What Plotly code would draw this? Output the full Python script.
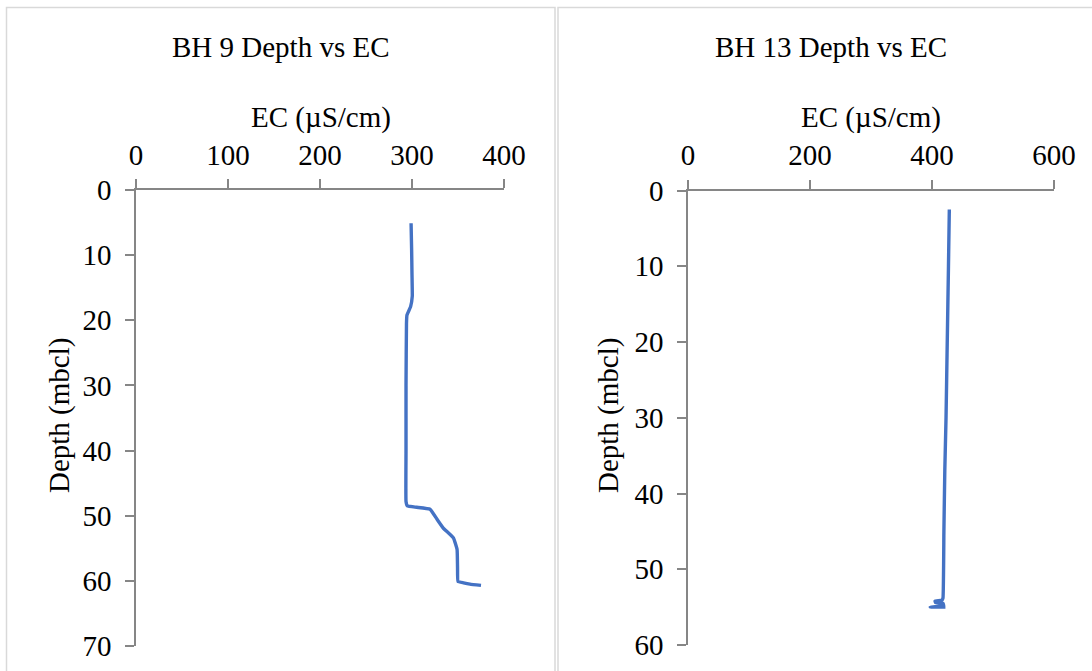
import plotly.graph_objects as go

# BH 9 profile: depth (m below collar) and electrical conductivity (µS/cm)
bh9_depth = [5.1, 9.2, 13.0, 16.3, 17.9, 19.2, 20.5, 30.0, 40.0, 47.8, 48.5, 48.7,
             49.0, 50.5, 51.9, 53.4, 55.2, 58.0, 60.1, 60.3, 60.5, 60.7]
bh9_ec = [299.0, 299.6, 300.0, 300.3, 298.5, 294.5, 294.0, 293.5, 293.5, 293.5, 295.0, 305.0,
          319.6, 327.0, 334.0, 345.0, 349.0, 349.5, 350.0, 356.0, 363.0, 375.0]

# BH 13 profile
bh13_depth = [2.5, 10.0, 20.0, 30.0, 36.9, 45.0, 53.8, 54.1, 54.2, 54.4, 54.5, 54.8, 55.0, 55.0]
bh13_ec = [428.4, 427.0, 425.0, 423.0, 421.0, 419.5, 418.0, 416.0, 405.0, 406.0, 418.0, 419.0, 397.0, 422.0]

# Axis ticks
bh9_xticks = [0, 100, 200, 300, 400]
bh9_yticks = [0, 10, 20, 30, 40, 50, 60, 70]
bh13_xticks = [0, 200, 400, 600]
bh13_yticks = [0, 10, 20, 30, 40, 50, 60]

W, H = 1092, 671
FONT = "Liberation Serif"
FS = 29
LINE = "#4472C4"
AXIS = "#868686"


def px(x):
    return x / W


def py(y):
    return 1 - y / H


fig = go.Figure()
fig.add_trace(go.Scatter(x=bh9_ec, y=bh9_depth, mode="lines", xaxis="x", yaxis="y",
                         line=dict(color=LINE, width=3.4, shape="spline", smoothing=0.3),
                         showlegend=False))
fig.add_trace(go.Scatter(x=bh13_ec, y=bh13_depth, mode="lines", xaxis="x2", yaxis="y2",
                         line=dict(color=LINE, width=3.4, shape="spline", smoothing=0.3),
                         showlegend=False))

common_x = dict(side="top", showgrid=False, zeroline=False, showline=True, linecolor=AXIS,
                linewidth=1.5, ticks="outside", ticklen=9, tickwidth=1.5, tickcolor=AXIS,
                automargin=False,
                tickfont=dict(family=FONT, size=FS, color="#000000"), ticklabelstandoff=3)
common_y = dict(showgrid=False, zeroline=False, showline=True, linecolor=AXIS,
                linewidth=1.5, ticks="outside", ticklen=9, tickwidth=1.5, tickcolor=AXIS,
                automargin=False,
                tickfont=dict(family=FONT, size=FS, color="#000000"), ticklabelstandoff=8)

fig.update_layout(
    width=W, height=H,
    margin=dict(l=0, r=0, t=0, b=0, autoexpand=False),
    paper_bgcolor="white", plot_bgcolor="white",
    xaxis=dict(common_x, domain=[px(136), px(504)], range=[0, 400],
               tickvals=bh9_xticks, anchor="y"),
    yaxis=dict(common_y, domain=[py(646), py(190)], range=[70, 0],
               tickvals=bh9_yticks, anchor="x"),
    xaxis2=dict(common_x, domain=[px(688), px(1054)], range=[0, 600],
                tickvals=bh13_xticks, anchor="y2"),
    yaxis2=dict(common_y, domain=[py(645), py(190.5)], range=[60, 0],
                tickvals=bh13_yticks, anchor="x2"),
    shapes=[
        dict(type="rect", xref="paper", yref="paper", x0=px(6.5), x1=px(555), y0=py(700), y1=py(7.5),
             line=dict(color="#D9D9D9", width=1.5), fillcolor="rgba(0,0,0,0)", layer="below"),
        dict(type="rect", xref="paper", yref="paper", x0=px(558), x1=px(1110), y0=py(700), y1=py(7.5),
             line=dict(color="#D9D9D9", width=1.5), fillcolor="rgba(0,0,0,0)", layer="below"),
    ],
)

ann_font = dict(family=FONT, size=FS, color="#000000")
annotations = [
    dict(text="BH 9 Depth vs EC", x=px(281), y=py(47)),
    dict(text="BH 13 Depth vs EC", x=px(831), y=py(47)),
    dict(text="EC (µS/cm)", x=px(321), y=py(118)),
    dict(text="EC (µS/cm)", x=px(871), y=py(118)),
    dict(text="Depth (mbcl)", x=px(59), y=py(416), textangle=-90),
    dict(text="Depth (mbcl)", x=px(608), y=py(416), textangle=-90),
]
for a in annotations:
    fig.add_annotation(xref="paper", yref="paper", xanchor="center", yanchor="middle",
                       showarrow=False, font=ann_font, **a)

fig.write_html("out.html")
